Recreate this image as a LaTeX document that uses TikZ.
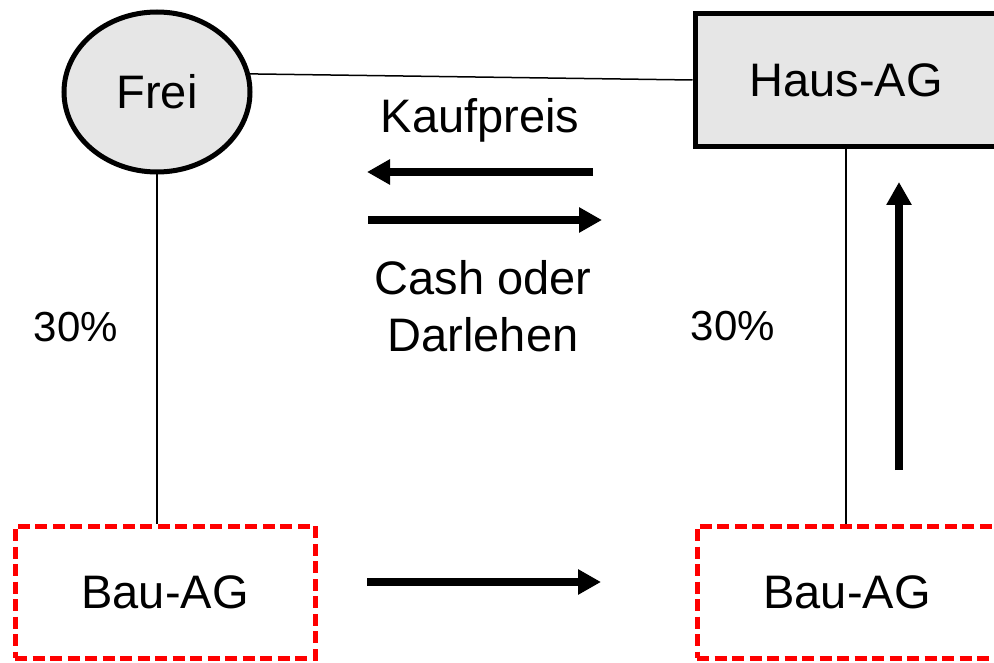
\documentclass[tikz,border=0pt]{standalone}
\usepackage{fontspec}
\setmainfont{Liberation Sans}
\usetikzlibrary{shapes.geometric,arrows.meta}
\definecolor{boxgray}{HTML}{E6E6E6}

\begin{document}
\begin{tikzpicture}[x=1pt, y=-1pt, font=\fontsize{47}{57}\selectfont,
        entity/.style={draw, line width=5pt, fill=boxgray, inner sep=0pt},
        target/.style={draw=red, line width=5pt, dash pattern=on 12pt off 5.5pt, minimum width=300pt, minimum height=132pt, inner sep=0pt},
        flow/.style={line width=8.5pt, -{Triangle[length=23pt, width=24pt]}},
        share/.style={font=\fontsize{42}{50}\selectfont}]
        \useasboundingbox (0,0) rectangle (994,663);
        \node[entity, ellipse, minimum width=186pt, minimum height=160pt] (frei) at (157,92) {Frei};
        \node[entity, rectangle, minimum width=302pt, minimum height=133pt] (haus) at (846,80) {Haus-AG};
        \node[target] (bauL) at (165,592) {Bau-AG};
        \node[target] (bauR) at (847,592) {Bau-AG};
        \draw[line width=1.5pt] (frei.11) -- (haus.west);
        \draw[line width=1.5pt] (frei.south) -- (frei.south |- bauL.north);
        \draw[line width=1.5pt] (haus.south) -- (haus.south |- bauR.north);
        \node[share] (pctL) at (76,327) {30\%};
        \node[share] (pctR) at (733,326) {30\%};
        \node (kaufpreis) at (480,120) {Kaufpreis};
        \node[align=center] (cash) at (483,306) {Cash oder\\Darlehen};
        \coordinate (kpA) at (593,172);
        \coordinate (kpB) at (367,172);
        \coordinate (cdA) at (368,220);
        \coordinate (cdB) at (602,220);
        \coordinate (bauA) at (367,582);
        \coordinate (bauB) at (601,582);
        \coordinate (upA) at (899,470);
        \coordinate (upB) at (899,182);
        \draw[flow] (kpA) -- (kpB);
        \draw[flow] (cdA) -- (cdB);
        \draw[flow] (bauA) -- (bauB);
        \draw[flow] (upA) -- (upB);
    \end{tikzpicture}
\end{document}
